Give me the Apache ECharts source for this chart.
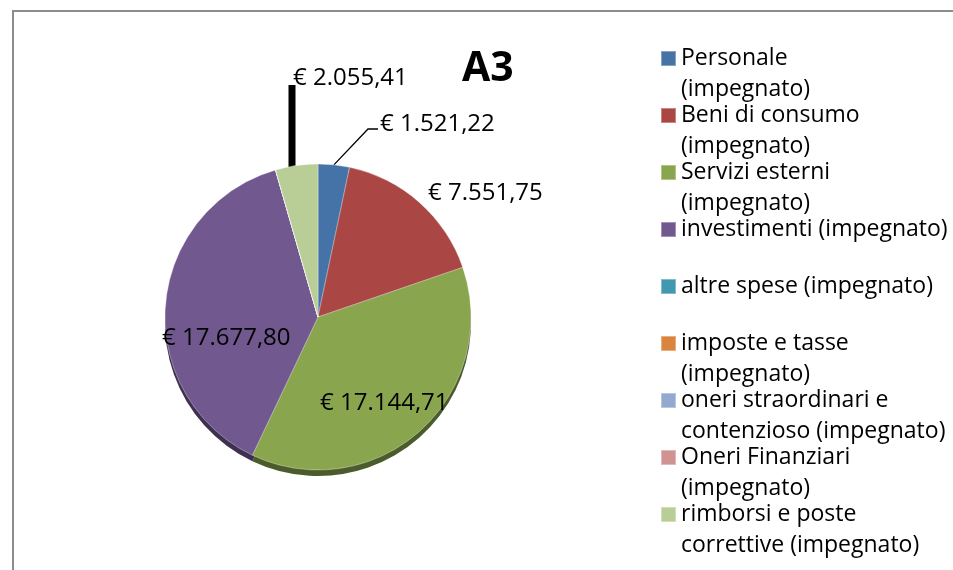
<!DOCTYPE html>
<html>
<head>
<meta charset="utf-8">
<script src="https://cdn.jsdelivr.net/npm/echarts@6/dist/echarts.min.js"></script>
<style>
  html, body { margin: 0; padding: 0; background: #fff; overflow: hidden; }
  #frame { position: absolute; left: 12px; top: 10px; width: 1000px; height: 620px;
           border: 2px solid #8c8c8c; box-sizing: border-box; }
  #main { position: absolute; left: 0; top: 0; width: 953px; height: 570px; }
</style>
</head>
<body>
<div id="frame"></div>
<div id="main"></div>
<script>
// dati del grafico A3
const chartTitle = 'A3';
const categories = [
  'Personale\n(impegnato)',
  'Beni di consumo\n(impegnato)',
  'Servizi esterni\n(impegnato)',
  'investimenti (impegnato)',
  'altre spese (impegnato)',
  'imposte e tasse\n(impegnato)',
  'oneri straordinari e\ncontenzioso (impegnato)',
  'Oneri Finanziari\n(impegnato)',
  'rimborsi e poste\ncorrettive (impegnato)'
];
const values = [1521.22, 7551.75, 17144.71, 17677.80, 0, 0, 0, 0, 2055.41];
const colors = ['#4572A7', '#AA4643', '#89A54E', '#71588F', '#4198AF',
                '#DB843D', '#93A9CF', '#D19392', '#B9CD96'];

const FONT = '"Open Sans", "Noto Sans", sans-serif';
const CENTER = [318, 317];
const RADIUS = 153;

// posizione etichette (sinistra, centro verticale)
const labelPlace = {
  0: { x: 380, y: 124, line: 'bend' },
  1: { x: 428, y: 193 },
  2: { x: 320, y: 403 },
  3: { x: 162, y: 338 },
  8: { x: 293, y: 78, line: 'vertical' }
};

function euro(v) {
  const parts = v.toFixed(2).split('.');
  parts[0] = parts[0].replace(/\B(?=(\d{3})+(?!\d))/g, '.');
  return '€ ' + parts[0] + ',' + parts[1];
}
function darken(hex, f) {
  const n = parseInt(hex.slice(1), 16);
  const r = Math.round(((n >> 16) & 255) * f), g = Math.round(((n >> 8) & 255) * f), b = Math.round((n & 255) * f);
  return 'rgb(' + r + ',' + g + ',' + b + ')';
}

const pieData = categories.map((name, i) => {
  const p = labelPlace[i];
  return {
    name: name,
    value: values[i],
    itemStyle: { color: colors[i] },
    label: { show: values[i] > 0 },
    labelLine: {
      show: !!(p && p.line),
      lineStyle: { color: '#000', width: p && p.line === 'vertical' ? 7 : 1.3 }
    }
  };
});
const edgeData = categories.map((name, i) => ({
  name: '_' + name,
  value: values[i],
  itemStyle: { color: darken(colors[i], 0.55) }
}));

const chart = echarts.init(document.getElementById('main'), null, { renderer: 'canvas' });
chart.setOption({
  animation: false,
  title: {
    text: chartTitle,
    left: 457,
    top: 44,
    textStyle: { fontFamily: FONT, fontSize: 41, fontWeight: 'bold', color: '#000' }
  },
  legend: {
    orient: 'vertical',
    left: 660,
    top: 12,
    padding: 0,
    itemGap: -36,
    itemWidth: 15,
    itemHeight: 15,
    icon: 'rect',
    data: categories,
    // riga vuota sopra: il quadratino resta allineato alla prima riga del testo
    formatter: name => ' \n' + (name.indexOf('\n') < 0 ? name + '\n ' : name),
    textStyle: { fontFamily: FONT, fontSize: 23, lineHeight: 31, color: '#000' }
  },
  series: [
    {
      type: 'pie',
      silent: true,
      z: 1,
      center: [CENTER[0], CENTER[1] + 6],
      radius: RADIUS,
      startAngle: 90,
      clockwise: true,
      label: { show: false },
      labelLine: { show: false },
      data: edgeData
    },
    {
      type: 'pie',
      z: 2,
      center: CENTER,
      radius: RADIUS,
      startAngle: 90,
      clockwise: true,
      avoidLabelOverlap: false,
      itemStyle: { borderColor: 'rgba(255,255,255,0.35)', borderWidth: 1 },
      label: {
        position: 'outside',
        formatter: p => euro(p.value),
        fontFamily: FONT,
        fontSize: 24,
        color: '#000'
      },
      labelLine: { show: true, length: 10, length2: 10 },
      labelLayout: function (params) {
        const p = labelPlace[params.dataIndex];
        if (!p) return {};
        const out = { x: p.x, y: p.y, align: 'left', verticalAlign: 'middle' };
        const pts = params.labelLinePoints;
        if (pts && p.line === 'bend') {
          out.labelLinePoints = [pts[0], [p.x - 12, p.y + 5], [p.x - 2, p.y + 5]];
        } else if (pts && p.line === 'vertical') {
          out.labelLinePoints = [[p.x - 1, pts[0][1] + 6], [p.x - 1, p.y + 8], [p.x - 1, p.y + 7]];
        }
        return out;
      },
      data: pieData
    }
  ]
});
</script>
</body>
</html>
